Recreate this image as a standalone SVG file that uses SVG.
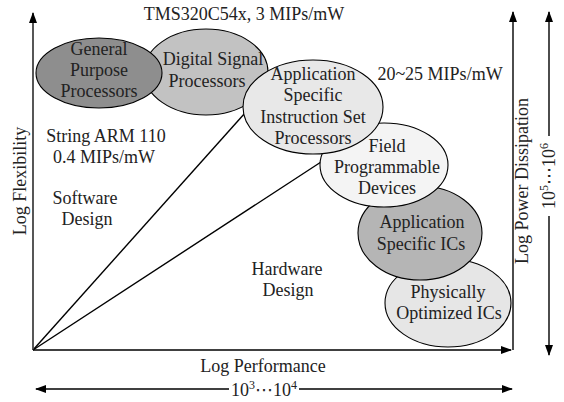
<svg xmlns="http://www.w3.org/2000/svg" width="564" height="402" viewBox="0 0 564 402">
<defs>
<marker id="ah" markerUnits="userSpaceOnUse" markerWidth="12" markerHeight="10" viewBox="0 0 12 10" refX="10" refY="5" orient="auto-start-reverse">
<path d="M0,1 L11,5 L0,9 z" fill="#000"/>
</marker>
<style>
text{font-family:"Liberation Serif","DejaVu Serif","DejaVu Sans",serif;font-size:18px;fill:#222;text-anchor:middle}
.ax{stroke:#000;stroke-width:1.4;fill:none}
.yax{stroke:#444;stroke-width:1.8;fill:none}
.el{stroke:#000;stroke-width:1.1}
.sup{font-size:12px}
</style>
</defs>
<rect width="564" height="402" fill="#fff"/>

<g id="connectors">
<line class="ax" x1="33" y1="350" x2="245" y2="113"/>
<line class="ax" x1="33" y1="350" x2="321" y2="162"/>
</g>

<g id="axes">
<line class="yax" x1="33" y1="350" x2="33" y2="13" marker-end="url(#ah)"/>
<line class="ax" x1="33" y1="350" x2="511" y2="350" marker-end="url(#ah)"/>
<line class="ax" x1="513" y1="350" x2="513" y2="12" marker-end="url(#ah)"/>
<line class="ax" x1="549" y1="136" x2="549" y2="12" marker-end="url(#ah)"/>
<line class="ax" x1="549" y1="216" x2="549" y2="355" marker-end="url(#ah)"/>
<line class="ax" x1="229" y1="389" x2="36" y2="389" marker-end="url(#ah)"/>
<line class="ax" x1="299" y1="389" x2="512" y2="389" marker-end="url(#ah)"/>
</g>

<g id="poic">
<ellipse class="el" cx="448" cy="303" rx="63" ry="44" fill="#e6e6e6"/>
<text x="448" y="298">Physically</text>
<text x="449" y="319">Optimized ICs</text>
</g>
<g id="asic">
<ellipse class="el" cx="420" cy="233" rx="62" ry="47" fill="#b5b5b5"/>
<text x="422" y="228">Application</text>
<text x="421" y="250">Specific ICs</text>
</g>
<g id="fpd">
<ellipse class="el" cx="384" cy="165" rx="64" ry="42" fill="#f4f4f4"/>
<text x="387" y="152">Field</text>
<text x="387" y="173">Programmable</text>
<text x="387" y="194">Devices</text>
</g>
<g id="dsp">
<ellipse class="el" cx="206" cy="72" rx="62" ry="43" fill="#c2c2c2"/>
<text x="213" y="65">Digital Signal</text>
<text x="207" y="87">Processors</text>
</g>
<g id="asisp">
<ellipse class="el" cx="313" cy="107" rx="70" ry="47" fill="#e8e8e8"/>
<text x="313" y="80">Application</text>
<text x="313" y="101">Specific</text>
<text x="313" y="123">Instruction Set</text>
<text x="313" y="144">Processors</text>
</g>
<g id="gpp">
<ellipse class="el" cx="99" cy="73" rx="63" ry="35" fill="#8e8e8e"/>
<text x="99" y="55">General</text>
<text x="99" y="76">Purpose</text>
<text x="99" y="97">Processors</text>
</g>

<g id="labels">
<text x="244" y="20">TMS320C54x, 3 MIPs/mW</text>
<text x="440" y="80">20~25 MIPs/mW</text>
<text x="106" y="142">String ARM 110</text>
<text x="104" y="163">0.4 MIPs/mW</text>
<text x="85" y="204">Software</text>
<text x="87" y="225">Design</text>
<text x="287" y="275">Hardware</text>
<text x="288" y="296">Design</text>
<text x="263" y="372">Log Performance</text>
<text x="264" y="396">10<tspan class="sup" dy="-7">3</tspan><tspan dy="7">⋯</tspan>10<tspan class="sup" dy="-7">4</tspan></text>
<text transform="translate(26,181) rotate(-90)">Log Flexibility</text>
<text transform="translate(528,181) rotate(-90)">Log Power Dissipation</text>
<text transform="translate(555,176) rotate(-90)">10<tspan class="sup" dy="-7">5</tspan><tspan dy="7">⋯</tspan>10<tspan class="sup" dy="-7">6</tspan></text>
</g>
</svg>
